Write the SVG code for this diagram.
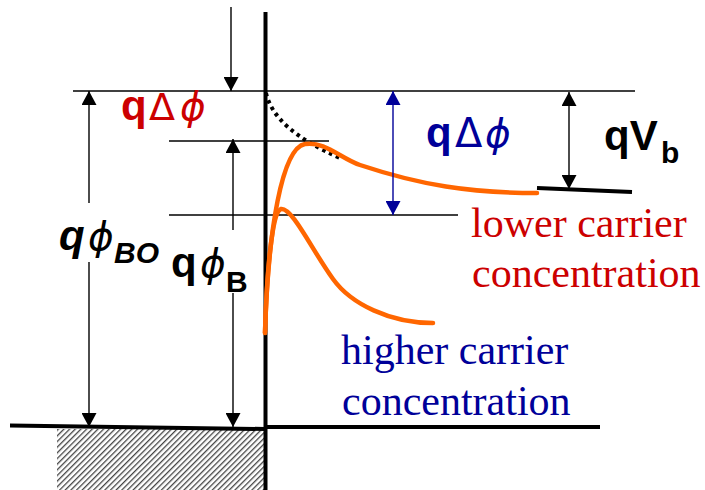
<svg xmlns="http://www.w3.org/2000/svg" width="705" height="490" viewBox="0 0 705 490">
<style>
.thin{stroke:#000;stroke-width:1.4;fill:none}
.thick{stroke:#000;stroke-width:4;fill:none}
.orange{stroke:#FF6600;stroke-width:4.5;fill:none;stroke-linecap:round}
.arr{stroke:#000;stroke-width:1.4;fill:none}
.arrb{stroke:#000099;stroke-width:1.4;fill:none}
.bs{font-family:"Liberation Sans",Arial,sans-serif;font-weight:bold}
.gr{font-family:"DejaVu Sans",sans-serif;font-style:italic}
.dl{font-family:"DejaVu Sans",sans-serif}
.ser{font-family:"Liberation Serif","Times New Roman",serif;font-size:42px}
</style>
<defs>
<marker id="ah" markerUnits="userSpaceOnUse" markerWidth="14" markerHeight="15" refX="14" refY="7.5" orient="auto-start-reverse"><path d="M0,0 L14,7.5 L0,15 z" fill="#000"/></marker>
<marker id="ahb" markerUnits="userSpaceOnUse" markerWidth="14" markerHeight="15" refX="14" refY="7.5" orient="auto-start-reverse"><path d="M0,0 L14,7.5 L0,15 z" fill="#000099"/></marker>
<pattern id="hatch" patternUnits="userSpaceOnUse" width="4" height="4" patternTransform="rotate(45)"><rect x="0" y="0" width="1.3" height="4" fill="#444"/></pattern>
</defs>

<g id="axes">
<rect x="57" y="429" width="207" height="61" fill="url(#hatch)"/>
<line class="thick" x1="265.5" y1="12" x2="265.5" y2="490"/>
<line class="thick" x1="10" y1="425.5" x2="265" y2="429"/>
<line class="thick" x1="265" y1="427" x2="600" y2="427"/>
<line class="thick" x1="537" y1="188" x2="632" y2="192"/>
</g>

<g id="levels">
<line class="thin" x1="73" y1="91" x2="635" y2="91"/>
<line class="thin" x1="169" y1="141" x2="329" y2="141"/>
<line class="thin" x1="169" y1="215" x2="458" y2="215"/>
</g>

<g id="curves">
<path d="M266 93 C272 118 295 138 340 158" stroke="#000" stroke-width="4" stroke-dasharray="3.5 4" fill="none"/>
<path class="orange" d="M265 333 C268 230 282 148 305 144 C325 141 340 158 360 165 C420 185 470 193 537 193"/>
<path class="orange" d="M265 333 C267 270 272 212 281 209 C292 207 312 250 333 279 C351 304 390 323 433 323"/>
</g>

<g id="connectors">
<line class="arr" x1="231" y1="7" x2="231" y2="91" marker-end="url(#ah)"/>
<line class="arr" x1="89" y1="203" x2="89" y2="91" marker-end="url(#ah)"/>
<line class="arr" x1="89" y1="262" x2="89" y2="427" marker-end="url(#ah)"/>
<line class="arr" x1="233" y1="230" x2="233" y2="139" marker-end="url(#ah)"/>
<line class="arr" x1="233" y1="293" x2="233" y2="427" marker-end="url(#ah)"/>
<line class="arrb" x1="393" y1="91" x2="393" y2="215" marker-start="url(#ahb)" marker-end="url(#ahb)"/>
<line class="arr" x1="569" y1="92" x2="569" y2="189" marker-start="url(#ah)" marker-end="url(#ah)"/>
</g>

<g id="label-red-dphi" fill="#CC0000">
<text y="120"><tspan class="bs" x="121" font-size="42">q</tspan><tspan class="dl" x="149" font-size="38">Δ</tspan><tspan class="gr" x="180" font-size="39">ϕ</tspan></text>
</g>

<g id="label-blue-dphi" fill="#000099">
<text y="147"><tspan class="bs" x="426" font-size="42">q</tspan><tspan class="dl" x="455" font-size="40">Δ</tspan><tspan class="gr" x="485" font-size="39">ϕ</tspan></text>
</g>

<g id="label-qVb" fill="#000">
<text y="150"><tspan class="bs" x="604" font-size="42">qV</tspan><tspan class="bs" x="661" y="163" font-size="30">b</tspan></text>
</g>

<g id="label-phiBO" fill="#000">
<text y="250"><tspan class="bs" x="59" font-size="42" font-style="italic">q</tspan><tspan class="gr" x="88" font-size="39">ϕ</tspan><tspan class="bs" x="114" y="263" font-size="30" font-style="italic">BO</tspan></text>
</g>

<g id="label-phiB" fill="#000">
<text y="277"><tspan class="bs" x="171" font-size="42">q</tspan><tspan class="gr" x="200" font-size="39">ϕ</tspan><tspan class="bs" x="226" y="292" font-size="30">B</tspan></text>
</g>

<g id="label-lower" fill="#CC0000">
<text class="ser" x="471" y="237">lower carrier</text>
<text class="ser" x="472" y="287">concentration</text>
</g>

<g id="label-higher" fill="#000099">
<text class="ser" x="341" y="364">higher carrier</text>
<text class="ser" x="342" y="415">concentration</text>
</g>
</svg>
